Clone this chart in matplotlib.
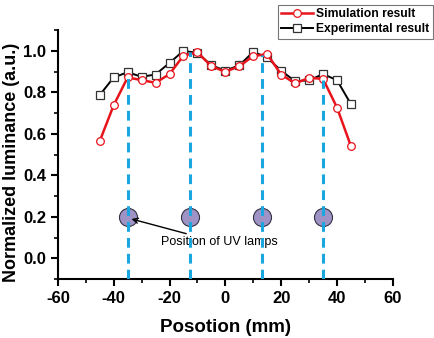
import numpy as np
import matplotlib.pyplot as plt
from matplotlib.ticker import MultipleLocator

plt.rcParams['font.family'] = ['Liberation Sans', 'DejaVu Sans']

# positions (mm)
pos = [-45, -40, -35, -30, -25, -20, -15, -10, -5, 0, 5, 10, 15, 20, 25, 30, 35, 40, 45]
sim = [0.565, 0.738, 0.872, 0.859, 0.846, 0.888, 0.977, 0.993, 0.926, 0.899,
       0.926, 0.975, 0.984, 0.886, 0.843, 0.870, 0.865, 0.727, 0.541]
expt = [0.787, 0.872, 0.897, 0.875, 0.886, 0.942, 1.0, 0.99, 0.93, 0.905,
        0.93, 0.995, 0.968, 0.904, 0.854, 0.858, 0.888, 0.859, 0.743]

# UV lamps
lamp_x = [-35, -12.5, 13, 35]
lamp_top = [0.887, 0.995, 0.98, 0.86]
lamp_y = 0.2

xticks = [-60, -40, -20, 0, 20, 40, 60]
yticks = [0.0, 0.2, 0.4, 0.6, 0.8, 1.0]

fig = plt.figure(figsize=(4.35, 3.38), dpi=100)
ax = fig.add_axes([0.133, 0.174, 0.770, 0.737])

l_exp, = ax.plot(pos, expt, '-s', color='black', lw=1.4, ms=5.5,
                 mfc='white', mec='#333333', mew=0.9, label='Experimental result')
l_sim, = ax.plot(pos, sim, '-o', color='#e8141c', lw=1.8, ms=5.5,
                 mfc='white', mec='#e8141c', mew=0.9, label='Simulation result')

ax.plot(lamp_x, [lamp_y] * len(lamp_x), 'o', ms=13, mfc='#9f93c6',
        mec='#333344', mew=0.8, zorder=3)
for xv, top in zip(lamp_x, lamp_top):
    ax.plot([xv, xv], [-0.1, top], color='#1aa7df', lw=2.2,
            dashes=(3.2, 2.0), zorder=4)

ax.annotate('Position of UV lamps', xy=(-33.6, 0.19), xytext=(-23.2, 0.077),
            fontsize=9, va='center', ha='left',
            arrowprops=dict(arrowstyle='->', color='black', lw=1.0,
                            shrinkA=0, shrinkB=0))

ax.set_xlim(-60, 60)
ax.set_ylim(-0.1, 1.1)
ax.xaxis.set_minor_locator(MultipleLocator(10))
ax.yaxis.set_minor_locator(MultipleLocator(0.1))
ax.spines['top'].set_visible(False)
ax.spines['right'].set_visible(False)
for s in ['left', 'bottom']:
    ax.spines[s].set_linewidth(1.5)
ax.tick_params(which='major', direction='out', length=5, width=1.5)
ax.tick_params(which='minor', direction='out', length=3, width=1.2)
ax.set_yticks(yticks)
ax.set_yticklabels(['%.1f' % v for v in yticks], fontweight='bold', fontsize=12)
ax.set_xticks(xticks)
ax.set_xticklabels([str(v) for v in xticks], fontweight='bold', fontsize=12)

ax.set_xlabel('Posotion (mm)', fontsize=13.5, fontweight='bold', va='top')
ax.set_ylabel('Normalized luminance (a.u.)', fontsize=13, fontweight='bold')
ax.xaxis.set_label_coords(0.5, -0.16)
ax.yaxis.set_label_coords(-0.113, 0.467)

leg = fig.legend(handles=[l_sim, l_exp], loc='upper right',
                 bbox_to_anchor=(0.998, 0.99), prop={'weight': 'bold', 'size': 8.7},
                 frameon=True, fancybox=False, edgecolor='#555555',
                 handlelength=2.6, handletextpad=0.3, borderpad=0.3,
                 labelspacing=0.25, borderaxespad=0.1)
leg.get_frame().set_linewidth(0.8)

fig.savefig('out.png', dpi=100)
